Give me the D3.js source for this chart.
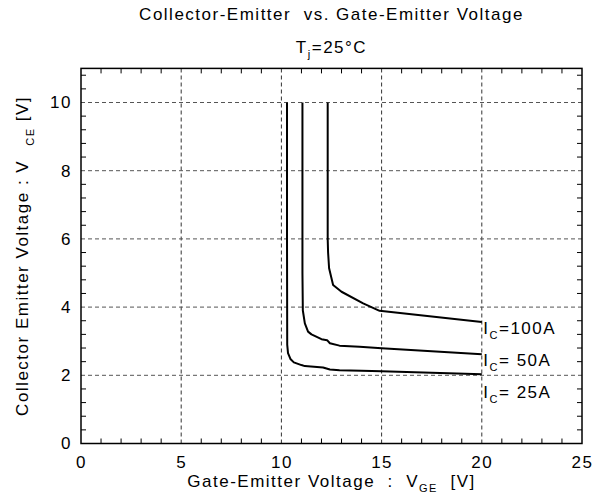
<!DOCTYPE html>
<html><head><meta charset="utf-8">
<script src="https://cdn.jsdelivr.net/npm/d3@7/dist/d3.min.js"></script>
<style>
body{margin:0;background:#fff}
svg{display:block}
text{font-family:"Liberation Sans",Arial,sans-serif;fill:#000}
</style>
</head><body>
<svg id="c" width="592" height="497"></svg>
<script>
// ---- data ----
const xTickValues = [0, 5, 10, 15, 20, 25];
const yTickValues = [0, 2, 4, 6, 8, 10];
const vge25  = [10.28, 10.28, 10.29, 10.33, 10.45, 10.62, 11.0, 11.17, 12.08, 12.42, 12.9, 14.0, 15.0, 20.0];
const vce25  = [10, 6, 2.9, 2.65, 2.48, 2.38, 2.3, 2.27, 2.23, 2.17, 2.15, 2.13, 2.12, 2.03];
const vge50  = [11.05, 11.05, 11.07, 11.17, 11.33, 11.5, 12.0, 12.28, 12.42, 12.9, 13.9, 15.0, 20.0];
const vce50  = [10, 5, 3.9, 3.52, 3.28, 3.2, 3.06, 3.03, 2.94, 2.87, 2.84, 2.79, 2.62];
const vge100 = [12.31, 12.31, 12.33, 12.38, 12.58, 13.0, 14.08, 14.9, 20.0];
const vce100 = [10, 6, 5.6, 5.14, 4.65, 4.45, 4.11, 3.89, 3.56];
const seriesNames = ["100A", " 50A", " 25A"];
const labelVce = [3.21, 2.27, 1.33];

const series = [
  {name: seriesNames[0], xs: vge100, ys: vce100, ly: labelVce[0]},
  {name: seriesNames[1], xs: vge50,  ys: vce50,  ly: labelVce[1]},
  {name: seriesNames[2], xs: vge25,  ys: vce25,  ly: labelVce[2]}
];

const svg = d3.select("#c");
const x = d3.scaleLinear().domain([0, 25]).range([81, 582]);
const y = d3.scaleLinear().domain([0, 11]).range([443.5, 68.4]);
const [x0, x1] = x.range(), [y0, y1] = y.range();

// grid
const g = svg.append("g");
g.selectAll("line.vg").data(xTickValues.filter(v => v > 0 && v < 25)).join("line")
  .attr("x1", d => x(d)).attr("x2", d => x(d)).attr("y1", y0).attr("y2", y1)
  .attr("stroke", "#333").attr("stroke-width", 1).attr("stroke-dasharray", "4,3");
g.selectAll("line.hg").data(yTickValues.filter(v => v > 0)).join("line")
  .attr("y1", d => y(d)).attr("y2", d => y(d)).attr("x1", x0).attr("x2", x1)
  .attr("stroke", "#555").attr("stroke-width", 1).attr("stroke-dasharray", "4,3");

// minor ticks
const xMinor = d3.range(1, 25).filter(v => v % 5 !== 0);
const yMinor = d3.range(1, 28).map(k => k * 0.4).filter((v, i) => (i + 1) % 5 !== 0);
const tl = 5;
xMinor.forEach(v => {
  g.append("line").attr("x1", x(v)).attr("x2", x(v)).attr("y1", y0).attr("y2", y0 - tl).attr("stroke", "#000");
  g.append("line").attr("x1", x(v)).attr("x2", x(v)).attr("y1", y1).attr("y2", y1 + tl).attr("stroke", "#000");
});
yMinor.forEach(v => {
  g.append("line").attr("y1", y(v)).attr("y2", y(v)).attr("x1", x0).attr("x2", x0 + tl).attr("stroke", "#000");
  g.append("line").attr("y1", y(v)).attr("y2", y(v)).attr("x1", x1).attr("x2", x1 - tl).attr("stroke", "#000");
});

// frame
svg.append("rect").attr("x", x0).attr("y", y1).attr("width", x1 - x0).attr("height", y0 - y1)
  .attr("fill", "none").attr("stroke", "#000").attr("stroke-width", 1.5);

// axes labels via d3 axes
const xa = svg.append("g").attr("transform", `translate(0,${y0})`)
  .call(d3.axisBottom(x).tickValues(xTickValues).tickSize(0).tickPadding(12).tickFormat(d3.format("d")));
xa.select(".domain").remove();
xa.selectAll("text").attr("font-size", 17).attr("font-family", "Liberation Sans, Arial, sans-serif")
  .style("letter-spacing", "1.5px");
const ya = svg.append("g").attr("transform", `translate(${x0},0)`)
  .call(d3.axisLeft(y).tickValues(yTickValues).tickSize(0).tickPadding(9).tickFormat(d3.format("d")));
ya.select(".domain").remove();
ya.selectAll("text").attr("font-size", 17).attr("font-family", "Liberation Sans, Arial, sans-serif")
  .style("letter-spacing", "1.5px");

// curves
const line = d3.line().x(d => x(d[0])).y(d => y(d[1]));
series.forEach(s => {
  const pts = s.xs.map((v, i) => [v, s.ys[i]]);
  svg.append("path").attr("d", line(pts)).attr("fill", "none")
    .attr("stroke", "#000").attr("stroke-width", 2).attr("stroke-linejoin", "round");
  const t = svg.append("text").attr("x", x(20) + 1.5).attr("y", y(s.ly))
    .attr("font-size", 17).style("letter-spacing", "1.5px").style("white-space", "pre");
  t.append("tspan").text("I");
  t.append("tspan").text("C").attr("font-size", 11).attr("dy", 5);
  t.append("tspan").text("=" + s.name).attr("dy", -5);
});

// titles
const cx = (x0 + x1) / 2;
svg.append("text").attr("x", cx).attr("y", 20).attr("text-anchor", "middle")
  .attr("font-size", 17).style("letter-spacing", "1.5px").style("white-space", "pre")
  .text("Collector-Emitter  vs. Gate-Emitter Voltage");
const tj = svg.append("text").attr("x", cx).attr("y", 53).attr("text-anchor", "middle")
  .attr("font-size", 17).style("letter-spacing", "1.5px");
tj.append("tspan").text("T");
tj.append("tspan").text("j").attr("font-size", 11).attr("dy", 5);
tj.append("tspan").text("=25°C").attr("dy", -5);

const xt = svg.append("text").attr("x", cx).attr("y", 487).attr("text-anchor", "middle")
  .attr("font-size", 17).style("letter-spacing", "1.5px").style("white-space", "pre");
xt.append("tspan").text("Gate-Emitter Voltage  :  V");
xt.append("tspan").text("GE").attr("font-size", 11).attr("dy", 5);
xt.append("tspan").text("  [V]").attr("dy", -5);

const yt = svg.append("text").attr("transform", `translate(28,${(y0 + y1) / 2}) rotate(-90)`)
  .attr("text-anchor", "middle").attr("font-size", 17).style("letter-spacing", "1.5px").style("white-space", "pre");
yt.append("tspan").text("Collector Emitter Voltage : V");
yt.append("tspan").text("CE").attr("font-size", 11).attr("dy", 6).attr("dx", 14);
yt.append("tspan").text(" [V]").attr("dy", -6);
</script>
</body></html>
